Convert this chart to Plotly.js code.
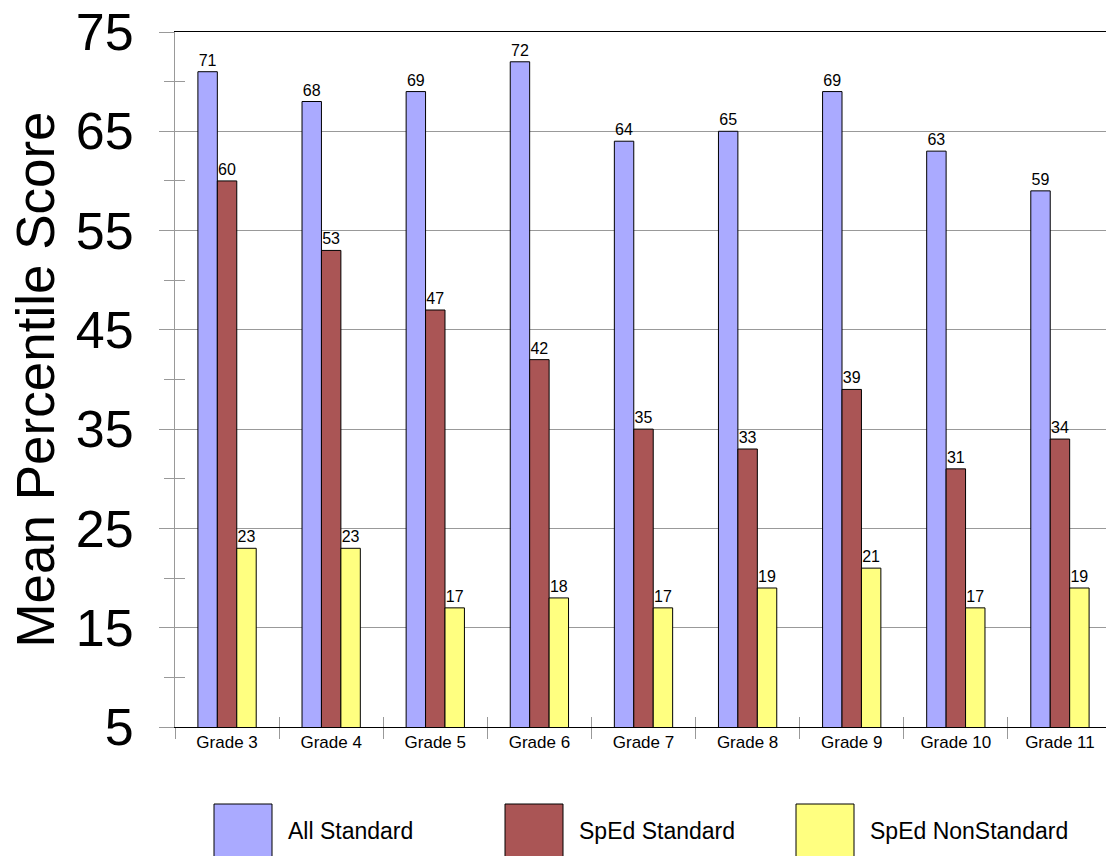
<!DOCTYPE html>
<html>
<head>
<meta charset="utf-8">
<script src="https://cdn.plot.ly/plotly-3.0.1.min.js"></script>
<style>html,body{margin:0;padding:0;background:#fff;overflow:hidden;}#chart{width:1112px;height:856px;}</style>
</head>
<body>
<div id="chart"></div>
<script>
const categories = ['Grade 3','Grade 4','Grade 5','Grade 6','Grade 7','Grade 8','Grade 9','Grade 10','Grade 11'];
const seriesNames = ['All Standard','SpEd Standard','SpEd NonStandard'];
const allStandard = [71,68,69,72,64,65,69,63,59];
const spedStandard = [60,53,47,42,35,33,39,31,34];
const spedNonStandard = [23,23,17,18,17,19,21,17,19];
const seriesValues = [allStandard, spedStandard, spedNonStandard];
const seriesColors = ['#AAAAFF','#AA5555','#FFFF80'];

const FONT = 'Arial, "Liberation Sans", sans-serif';
const GRAY = '#999999';

const traces = seriesNames.map((name, i) => ({
  type: 'bar',
  name: name,
  x: categories,
  y: seriesValues[i],
  marker: {color: seriesColors[i], line: {color: '#000', width: 1}},
  text: seriesValues[i].map(String),
  textposition: 'outside',
  textfont: {family: FONT, size: 16, color: '#000'},
  cliponaxis: false,
  hoverinfo: 'x+y+name',
  showlegend: false
}));

// Legend drawn as shapes + annotations (large swatches like the reference)
const W = 1112, H = 856;
const plotL = 175, plotR = 1112, plotT = 32, plotB = 727;
const px = v => (v - plotL) / (plotR - plotL);
const py = v => (plotB - v) / (plotB - plotT);
const legendBoxX = [214, 505, 796];
const shapes = [];
const annotations = [];
seriesNames.forEach((name, i) => {
  shapes.push({type: 'rect', xref: 'paper', yref: 'paper',
    x0: px(legendBoxX[i]), x1: px(legendBoxX[i] + 58),
    y0: py(804), y1: py(862),
    fillcolor: seriesColors[i], line: {color: '#000', width: 1}});
  annotations.push({xref: 'paper', yref: 'paper',
    x: px(legendBoxX[i] + 72), y: py(831), xanchor: 'left', yanchor: 'middle',
    text: name, showarrow: false, font: {family: FONT, size: 23, color: '#000'}});
});

const layout = {
  width: W, height: H,
  margin: {l: plotL, r: W - plotR, t: plotT, b: H - plotB},
  paper_bgcolor: '#fff', plot_bgcolor: '#fff',
  font: {family: FONT, color: '#000'},
  barmode: 'group', bargap: 0.44, bargroupgap: 0,
  showlegend: false,
  xaxis: {
    type: 'category',
    showline: true, linecolor: '#000', linewidth: 1, mirror: true,
    ticks: 'outside', tickson: 'boundaries', ticklen: 11, tickcolor: GRAY, tickwidth: 1,
    tickfont: {family: FONT, size: 17, color: '#000'},
    showgrid: false, zeroline: false, automargin: false
  },
  xaxis2: {
    type: 'linear', overlaying: 'x', anchor: 'y',
    range: [-0.5, categories.length - 0.5],
    tickmode: 'linear', tick0: -0.5, dtick: 1,
    ticks: 'inside', ticklen: 10, tickcolor: GRAY, tickwidth: 1,
    showticklabels: false, showgrid: false, zeroline: false, showline: false
  },
  yaxis: {
    range: [5, 75], tickmode: 'linear', tick0: 5, dtick: 10,
    ticks: 'outside', ticklen: 15, tickcolor: GRAY, tickwidth: 1,
    tickfont: {family: FONT, size: 52, color: '#000'},
    ticklabelstandoff: 15,
    showgrid: true, gridcolor: GRAY, gridwidth: 1,
    showline: true, linecolor: GRAY, linewidth: 1,
    zeroline: false, automargin: false,
    minor: {tick0: 0, dtick: 10, ticks: 'outside', ticklen: 10, tickcolor: GRAY, showgrid: false},
    title: {text: 'Mean Percentile Score', font: {family: FONT, size: 53, color: '#000'}, standoff: 4}
  },
  yaxis2: {
    overlaying: 'y', anchor: 'x', side: 'left',
    range: [5, 75], tickmode: 'linear', tick0: 10, dtick: 10,
    ticks: 'inside', ticklen: 10, tickcolor: GRAY, tickwidth: 1,
    showticklabels: false, showgrid: false, zeroline: false, showline: false
  },
  shapes: shapes,
  annotations: annotations
};

// empty helper traces so the overlay tick axes are drawn
traces.push({type: 'scatter', x: [], y: [], xaxis: 'x2', yaxis: 'y', showlegend: false, hoverinfo: 'skip'});
traces.push({type: 'scatter', x: [], y: [], xaxis: 'x', yaxis: 'y2', showlegend: false, hoverinfo: 'skip'});

Plotly.newPlot('chart', traces, layout, {displayModeBar: false, staticPlot: true});
</script>
</body>
</html>
